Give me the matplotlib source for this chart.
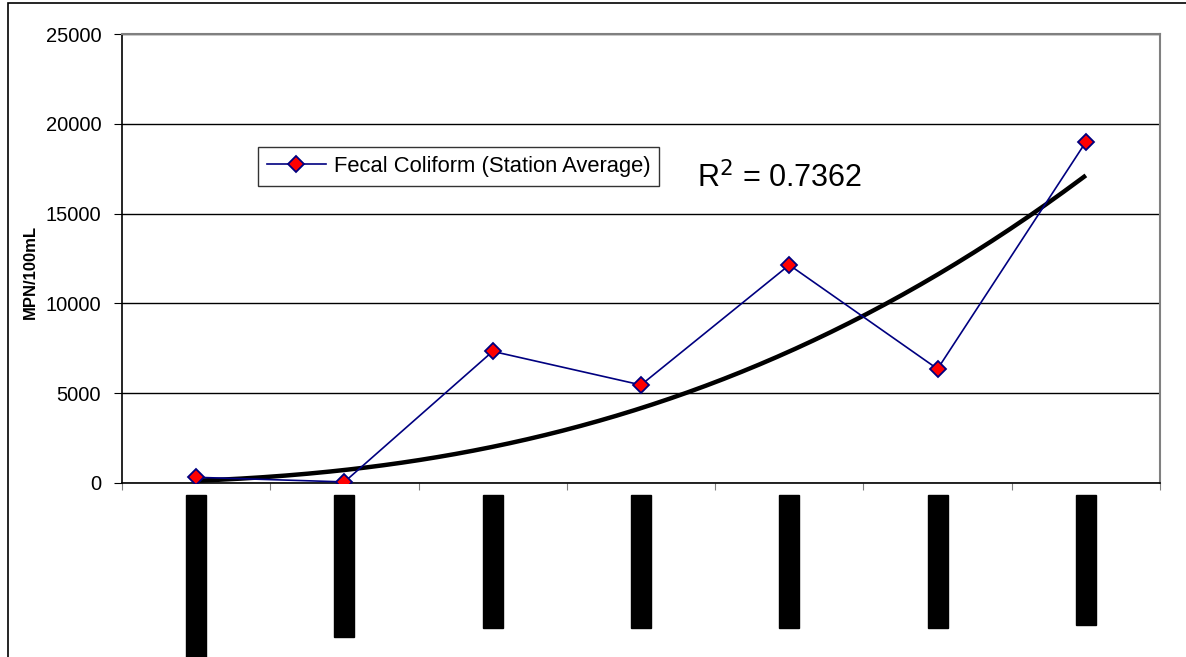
import numpy as np
import matplotlib
matplotlib.use("Agg")
import matplotlib.pyplot as plt
from matplotlib.patches import Rectangle
from matplotlib.transforms import blended_transform_factory

plt.rcParams["font.family"] = ["Liberation Sans", "DejaVu Sans"]

# Station averages (category labels in the source are unreadable black blocks)
stations = ["1", "2", "3", "4", "5", "6", "7"]
fecal_coliform = [317, 60, 7330, 5460, 12140, 6350, 18990]
r_squared_text = "R$^2$ = 0.7362"
y_ticks = [0, 5000, 10000, 15000, 20000, 25000]

# layout helpers (pixel sizes of the hidden label blocks)
label_block_px = [175, 142, 133, 133, 133, 133, 130]

W, H = 1186, 657
fig = plt.figure(figsize=(W / 100, H / 100), dpi=100)
ax = fig.add_axes([122 / W, 1 - 483 / H, (1160 - 122) / W, (483 - 34) / H])

pos = np.arange(len(stations)) + 0.5

# power trendline fitted in log space, like Excel's power trend
k = np.arange(1, len(stations) + 1)
b, loga = np.polyfit(np.log(k), np.log(fecal_coliform), 1)
kk = np.linspace(1, len(stations), 200)
ax.plot(kk - 0.5, np.exp(loga) * kk ** b, color="black", lw=3.2, zorder=2,
        solid_capstyle="butt")

ax.plot(pos, fecal_coliform, color="#000080", lw=1.2, marker="D", markersize=8,
        markerfacecolor="#ff0000", markeredgecolor="#000080", markeredgewidth=1.3,
        label="Fecal Coliform (Station Average)", zorder=3)

ax.set_xlim(0, len(stations))
ax.set_ylim(0, 25000)
ax.set_yticks(y_ticks)
ax.set_yticklabels([str(v) for v in y_ticks], fontsize=14.5)
ax.set_xticks(np.arange(0, len(stations) + 1))
ax.set_xticklabels([])
ax.tick_params(axis="x", direction="out", length=5, color="#808080")
ax.tick_params(axis="y", direction="out", length=6, pad=9)
ax.grid(axis="y", color="black", lw=1)
ax.set_axisbelow(True)

for s in ["top", "right"]:
    ax.spines[s].set_color("#808080")
    ax.spines[s].set_linewidth(1.5)
for s in ["left", "bottom"]:
    ax.spines[s].set_color("black")
    ax.spines[s].set_linewidth(1.2)

ax.set_ylabel("MPN/100mL", fontsize=12, fontweight="bold")
ax.yaxis.set_label_coords(-0.081, 0.47)

leg = ax.legend(loc="upper left", bbox_to_anchor=((258 - 122) / (1160 - 122), 1 - (147 - 34) / 449),
                fontsize=15.8, frameon=True, fancybox=False, borderpad=0.4,
                handlelength=2.7, handletextpad=0.35, borderaxespad=0)
leg.get_frame().set_edgecolor("black")
leg.get_frame().set_linewidth(1)

ax.text((697 - 122) / (1160 - 122), 1 - (178 - 34) / 449, r_squared_text,
        transform=ax.transAxes, fontsize=22, va="center", ha="left")

# hidden category labels drawn as black blocks under each station
tr = blended_transform_factory(ax.transData, fig.transFigure)
bw = 20 / ((1160 - 122) / len(stations))
for p, h in zip(pos, label_block_px):
    top = 1 - 495 / H
    fig.patches.append(Rectangle((p - bw / 2, top - h / H), bw, h / H,
                                 transform=tr, color="black", clip_on=False))

# outer chart border
fig.patches.append(Rectangle((8 / W, -0.05), 1.2, 1 - 3 / H + 0.05, transform=fig.transFigure,
                             fill=False, edgecolor="black", lw=1.2, clip_on=False))

fig.savefig("out.png", dpi=100)
